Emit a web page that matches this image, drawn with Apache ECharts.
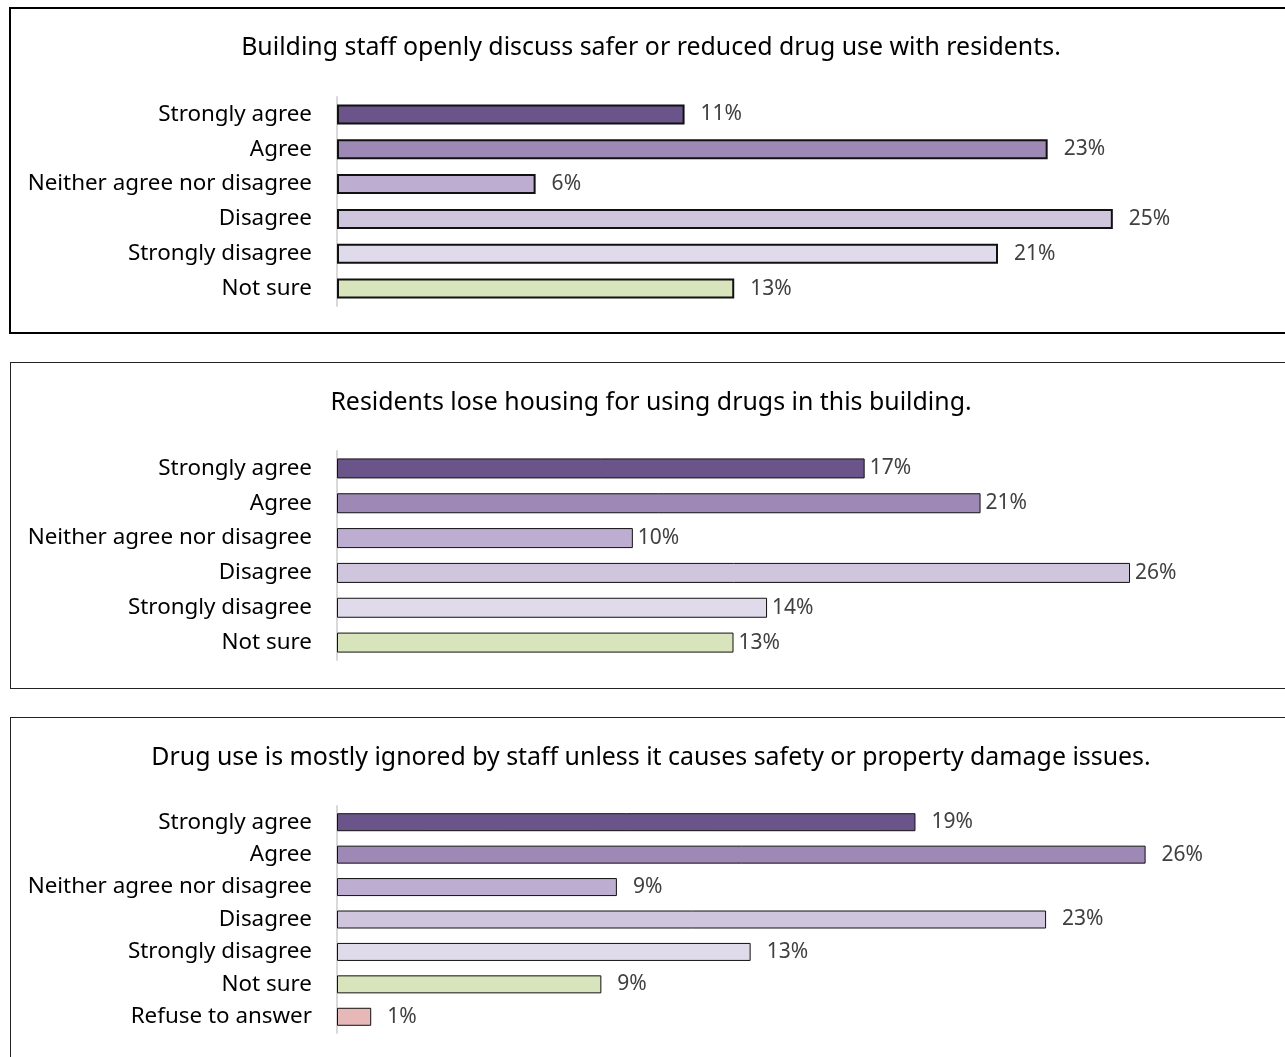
<!DOCTYPE html>
<html>
<head>
<meta charset="utf-8">
<script src="https://cdn.jsdelivr.net/npm/echarts@6/dist/echarts.min.js"></script>
<style>
  html, body { margin: 0; padding: 0; background: #fff; }
  #main { position: absolute; left: 0; top: 0; width: 1285px; height: 1057px; }
  .box { position: absolute; box-sizing: border-box; pointer-events: none; }
</style>
</head>
<body>
<div id="main"></div>
<div class="box" style="left:9px;top:7px;width:1300px;height:327px;border:2px solid #000;"></div>
<div class="box" style="left:10px;top:362px;width:1300px;height:327px;border:1px solid #222;"></div>
<div class="box" style="left:10px;top:717px;width:1300px;height:360px;border:1px solid #222;"></div>
<script>
// 三个问题的标题
var titles = [
    'Building staff openly discuss safer or reduced drug use with residents.',
    'Residents lose housing for using drugs in this building.',
    'Drug use is mostly ignored by staff unless it causes safety or property damage issues.'
]
var categories = ['Strongly agree', 'Agree', 'Neither agree nor disagree', 'Disagree', 'Strongly disagree', 'Not sure']
var categories3 = categories.concat(['Refuse to answer'])
// 百分比
var values1 = [11.2, 22.9, 6.4, 25.0, 21.3, 12.8]
var values2 = [17.3, 21.1, 9.7, 26.0, 14.1, 13.0]
var values3 = [18.6, 26.0, 9.0, 22.8, 13.3, 8.5, 1.1]
var colors = ['#6b5489', '#9e88b6', '#bdadd0', '#cfc5dc', '#e0dbea', '#d8e4bc', '#e6b8b7']

var chart = echarts.init(document.getElementById('main'))

// 每个面板的布局
var panels = [
    {cats: categories, vals: values1, top: 97, height: 209, width: 931, barW: 20, border: 2, dist: 16, titleY: 48},
    {cats: categories, vals: values2, top: 451, height: 209, width: 915, barW: 20, border: 1, dist: 5, titleY: 403},
    {cats: categories3, vals: values3, top: 806, height: 227, width: 933, barW: 18, border: 1, dist: 16, titleY: 758}
]

var grids = [], xAxes = [], yAxes = [], series = [], graphics = []
panels.forEach(function (p, i) {
    grids.push({left: 337, top: p.top, width: p.width, height: p.height})
    xAxes.push({
        type: 'value', gridIndex: i, min: 0, max: 30,
        show: false, splitLine: {show: false}
    })
    yAxes.push({
        type: 'category', gridIndex: i, inverse: true, data: p.cats,
        axisLine: {show: true, lineStyle: {color: '#d9d9d9', width: 2}},
        axisTick: {show: false},
        axisLabel: {margin: 25, fontSize: 22.4, color: '#000', fontFamily: 'Noto Sans', padding: [4, 0, 0, 0]}
    })
    series.push({
        type: 'bar', xAxisIndex: i, yAxisIndex: i,
        barWidth: p.barW,
        data: p.vals.map(function (v, k) {
            return {value: v, itemStyle: {color: colors[k]}}
        }),
        itemStyle: {borderColor: '#111', borderWidth: p.border},
        label: {
            show: true, position: 'right', distance: p.dist,
            fontSize: 21, color: '#404040', fontFamily: 'Noto Sans',
            padding: [6, 0, 0, 0],
            formatter: function (d) { return Math.round(d.value) + '%' }
        },
        silent: true
    })
    graphics.push({
        type: 'text', x: 651, y: p.titleY,
        style: {
            text: titles[i], fill: '#000', font: '24.9px "Noto Sans"',
            textAlign: 'center', textVerticalAlign: 'middle'
        }
    })
})

chart.setOption({
    animation: false,
    grid: grids,
    xAxis: xAxes,
    yAxis: yAxes,
    series: series,
    graphic: graphics
})
</script>
</body>
</html>
